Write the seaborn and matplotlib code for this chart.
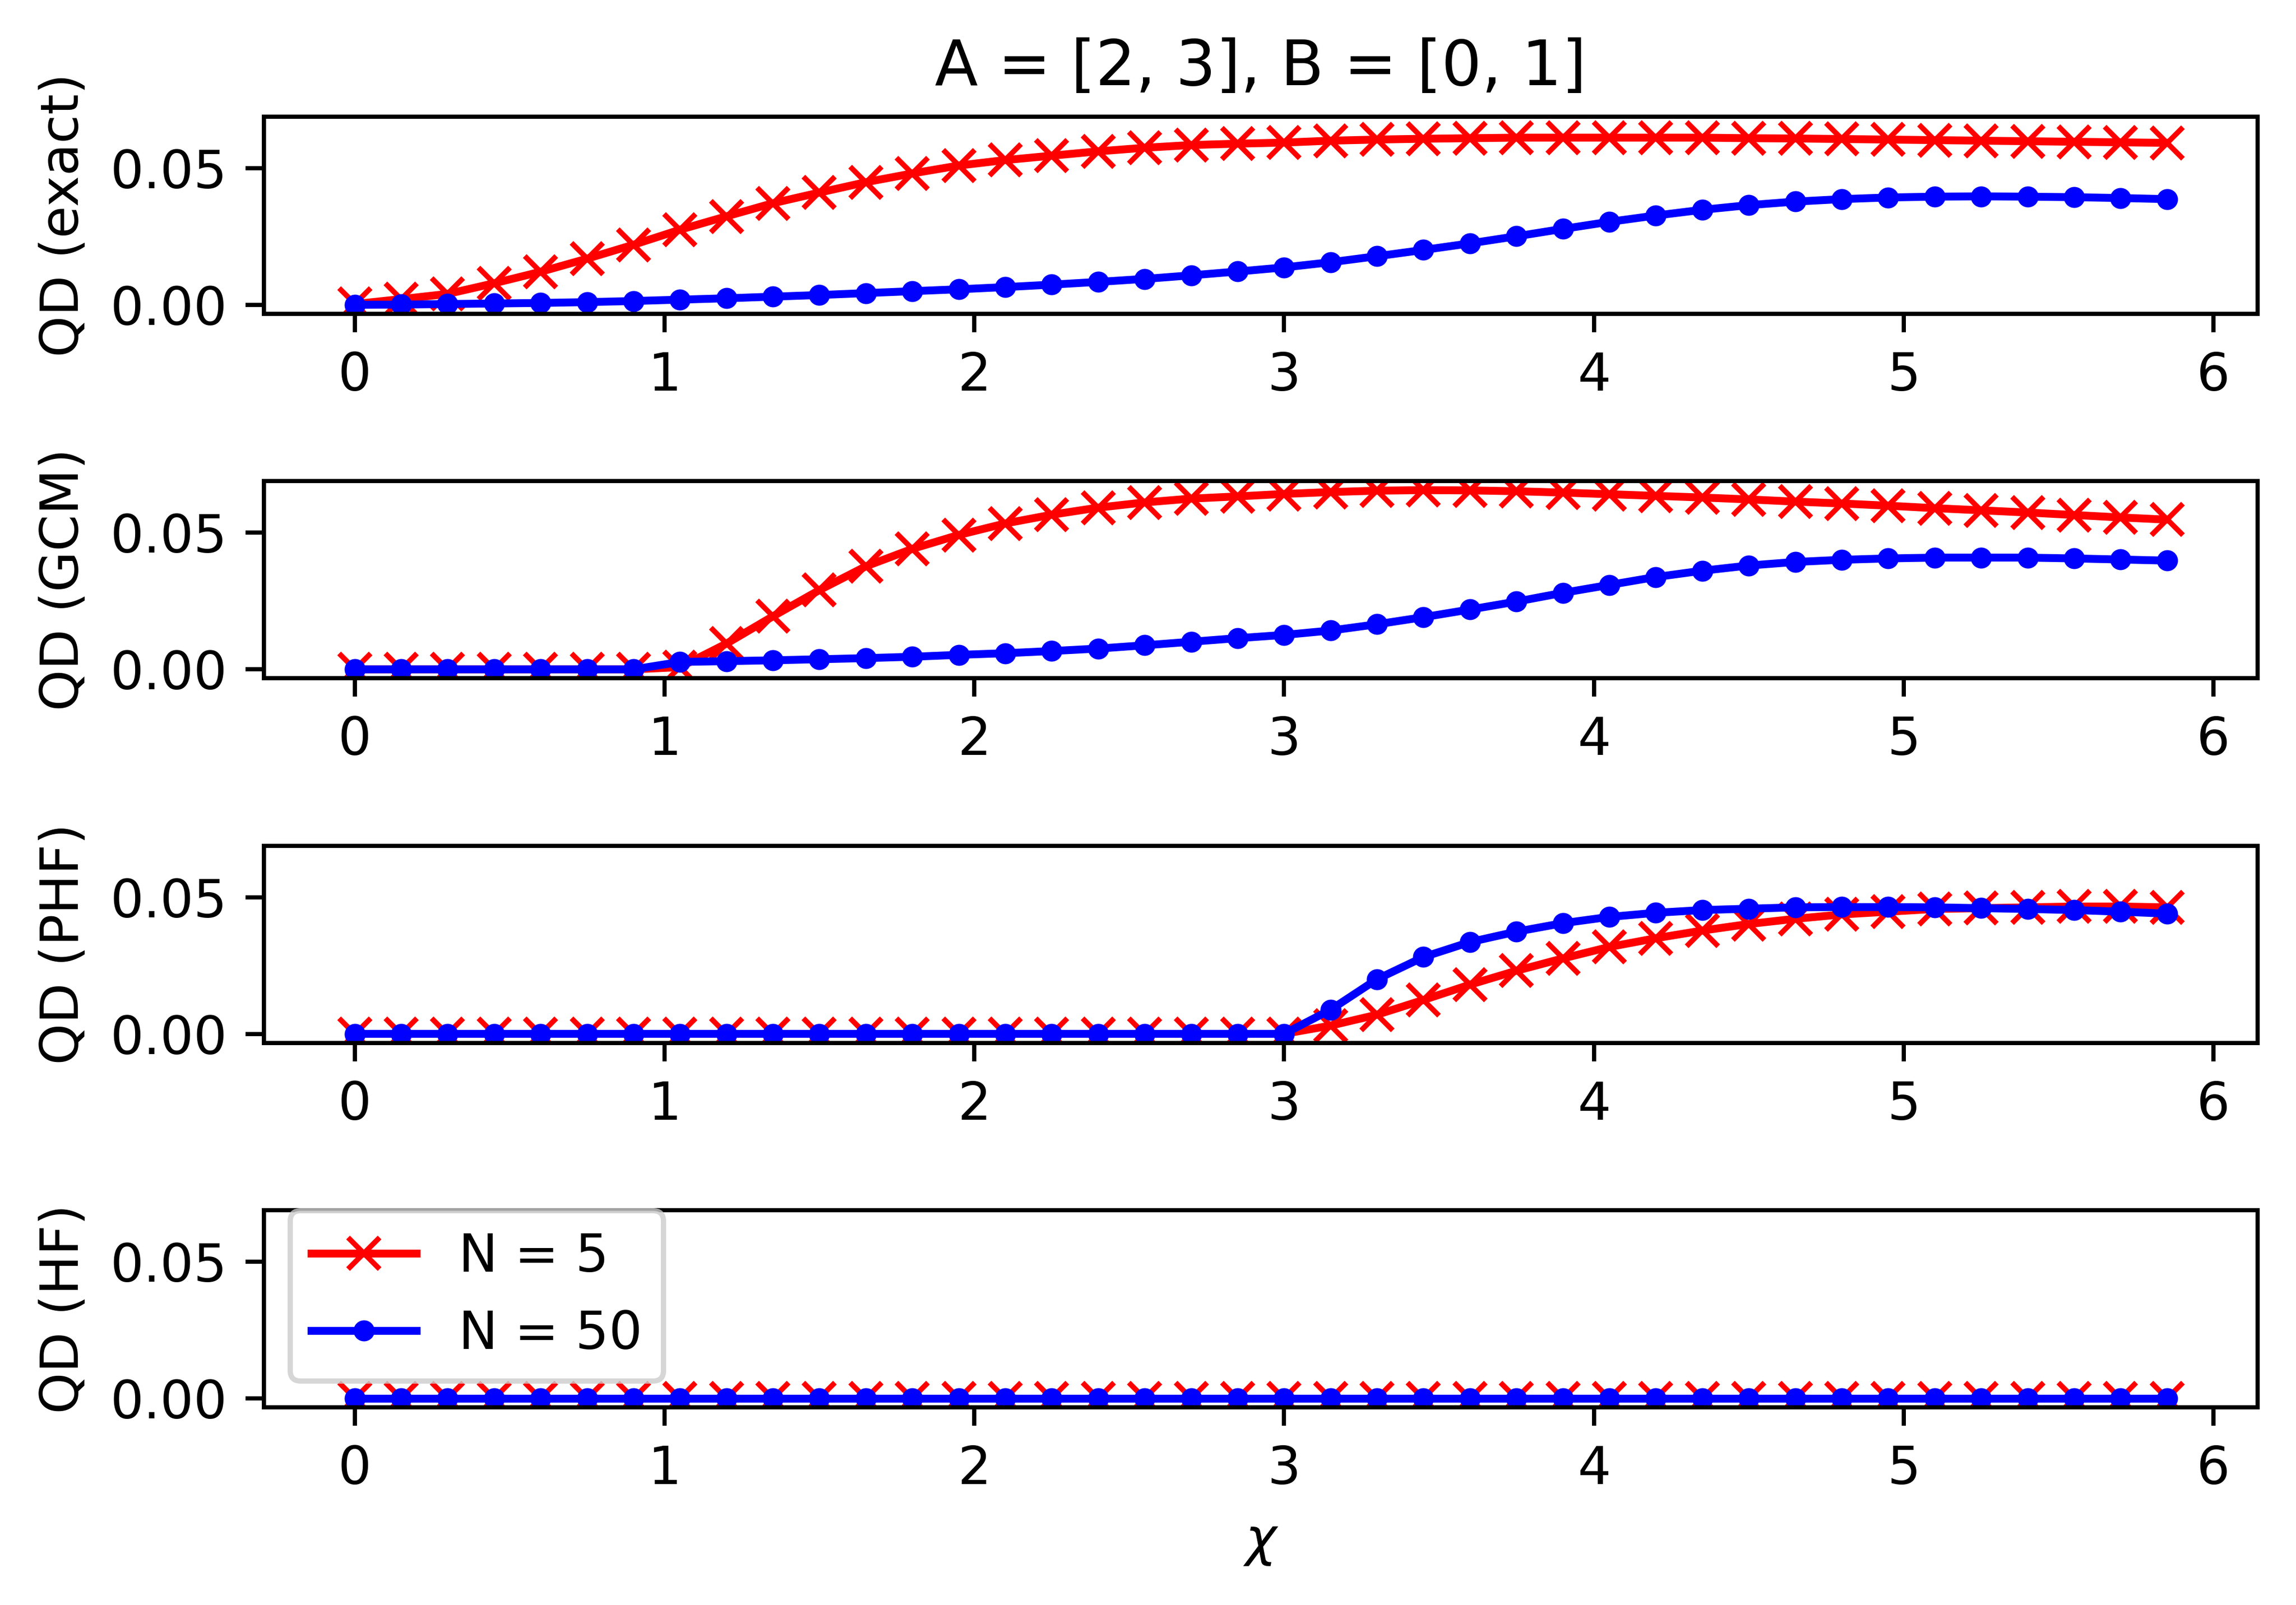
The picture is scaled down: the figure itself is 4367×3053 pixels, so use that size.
import matplotlib
matplotlib.use("Agg")
import matplotlib.pyplot as plt
import seaborn as sns

# chi grid
chi = [0.0, 0.15, 0.3, 0.45, 0.6, 0.75, 0.9, 1.05, 1.2, 1.35,
       1.5, 1.65, 1.8, 1.95, 2.1, 2.25, 2.4, 2.55, 2.7, 2.85,
       3.0, 3.15, 3.3, 3.45, 3.6, 3.75, 3.9, 4.05, 4.2, 4.35,
       4.5, 4.65, 4.8, 4.95, 5.1, 5.25, 5.4, 5.55, 5.7, 5.85]

# ==== QD values ====
exact_n5 = [0.0003, 0.0021, 0.0040, 0.0079, 0.0121, 0.0169, 0.0220, 0.0275, 0.0324, 0.0372,
            0.0411, 0.0449, 0.0481, 0.0510, 0.0530, 0.0546, 0.0562, 0.0575, 0.0585, 0.0590,
            0.0594, 0.0601, 0.0605, 0.0608, 0.0610, 0.0612, 0.0612, 0.0612, 0.0612, 0.0612,
            0.0610, 0.0609, 0.0607, 0.0605, 0.0603, 0.0601, 0.0599, 0.0597, 0.0595, 0.0593]
exact_n50 = [0.0000, 0.0001, 0.0003, 0.0005, 0.0007, 0.0010, 0.0014, 0.0019, 0.0024, 0.0030,
             0.0036, 0.0043, 0.0050, 0.0057, 0.0065, 0.0074, 0.0084, 0.0095, 0.0108, 0.0122,
             0.0137, 0.0156, 0.0178, 0.0201, 0.0225, 0.0251, 0.0278, 0.0304, 0.0327, 0.0348,
             0.0365, 0.0378, 0.0387, 0.0393, 0.0396, 0.0397, 0.0396, 0.0394, 0.0391, 0.0387]

gcm_n5 = [0.0, 0.0, 0.0, 0.0, 0.0, 0.0, 0.0, 0.0008, 0.0094, 0.0194,
          0.0290, 0.0377, 0.0441, 0.0492, 0.0534, 0.0566, 0.0592, 0.0611, 0.0625, 0.0633,
          0.0642, 0.0649, 0.0654, 0.0656, 0.0655, 0.0652, 0.0647, 0.0641, 0.0635, 0.0629,
          0.0622, 0.0614, 0.0607, 0.0599, 0.0590, 0.0582, 0.0574, 0.0565, 0.0556, 0.0548]
gcm_n50 = [0.0, 0.0, 0.0, 0.0, 0.0, 0.0, 0.0, 0.0027, 0.0030, 0.0033,
           0.0037, 0.0041, 0.0046, 0.0053, 0.0059, 0.0067, 0.0076, 0.0088, 0.0101, 0.0114,
           0.0126, 0.0142, 0.0165, 0.0191, 0.0219, 0.0248, 0.0280, 0.0309, 0.0338, 0.0361,
           0.0380, 0.0393, 0.0401, 0.0406, 0.0409, 0.0409, 0.0409, 0.0406, 0.0402, 0.0398]

phf_n5 = [0.0, 0.0, 0.0, 0.0, 0.0, 0.0, 0.0, 0.0, 0.0, 0.0,
          0.0, 0.0, 0.0, 0.0, 0.0, 0.0, 0.0, 0.0, 0.0, 0.0,
          0.0, 0.0030, 0.0070, 0.0124, 0.0180, 0.0231, 0.0276, 0.0318, 0.0350, 0.0378,
          0.0402, 0.0421, 0.0437, 0.0447, 0.0457, 0.0460, 0.0463, 0.0466, 0.0466, 0.0463]
phf_n50 = [0.0, 0.0, 0.0, 0.0, 0.0, 0.0, 0.0, 0.0, 0.0, 0.0,
           0.0, 0.0, 0.0, 0.0, 0.0, 0.0, 0.0, 0.0, 0.0, 0.0,
           0.0, 0.0088, 0.0200, 0.0281, 0.0336, 0.0374, 0.0405, 0.0428, 0.0443, 0.0453,
           0.0458, 0.0463, 0.0464, 0.0464, 0.0463, 0.0460, 0.0457, 0.0453, 0.0447, 0.0440]

hf_n5 = [0.0, 0.0, 0.0, 0.0, 0.0, 0.0, 0.0, 0.0, 0.0, 0.0,
         0.0, 0.0, 0.0, 0.0, 0.0, 0.0, 0.0, 0.0, 0.0, 0.0,
         0.0, 0.0, 0.0, 0.0, 0.0, 0.0, 0.0, 0.0, 0.0, 0.0,
         0.0, 0.0, 0.0, 0.0, 0.0, 0.0, 0.0, 0.0, 0.0, 0.0]
hf_n50 = [0.0, 0.0, 0.0, 0.0, 0.0, 0.0, 0.0, 0.0, 0.0, 0.0,
          0.0, 0.0, 0.0, 0.0, 0.0, 0.0, 0.0, 0.0, 0.0, 0.0,
          0.0, 0.0, 0.0, 0.0, 0.0, 0.0, 0.0, 0.0, 0.0, 0.0,
          0.0, 0.0, 0.0, 0.0, 0.0, 0.0, 0.0, 0.0, 0.0, 0.0]

panel_labels = ["QD (exact)", "QD (GCM)", "QD (PHF)", "QD (HF)"]
panel_n5 = [exact_n5, gcm_n5, phf_n5, hf_n5]
panel_n50 = [exact_n50, gcm_n50, phf_n50, hf_n50]

fig, axes = plt.subplots(4, 1, figsize=(4367 / 720, 3053 / 720), sharey=True)
fig.subplots_adjust(left=0.115, right=0.9833, top=0.9273, bottom=0.1232, hspace=0.849)

for ax, ylab, n5, n50 in zip(axes, panel_labels, panel_n5, panel_n50):
    sns.lineplot(x=chi, y=n5, ax=ax, color="red", marker="x",
                 markeredgecolor="red", markeredgewidth=1.0,
                 label="N = 5", legend=False)
    sns.lineplot(x=chi, y=n50, ax=ax, color="blue", marker=".",
                 markeredgecolor="blue", markeredgewidth=1.0,
                 label="N = 50", legend=False)
    ax.set_ylabel(ylab)

axes[0].set_title("A = [2, 3], B = [0, 1]")
axes[-1].set_xlabel(r"$\chi$")
axes[-1].legend(loc="lower left")

fig.savefig("out.png", dpi=720)
